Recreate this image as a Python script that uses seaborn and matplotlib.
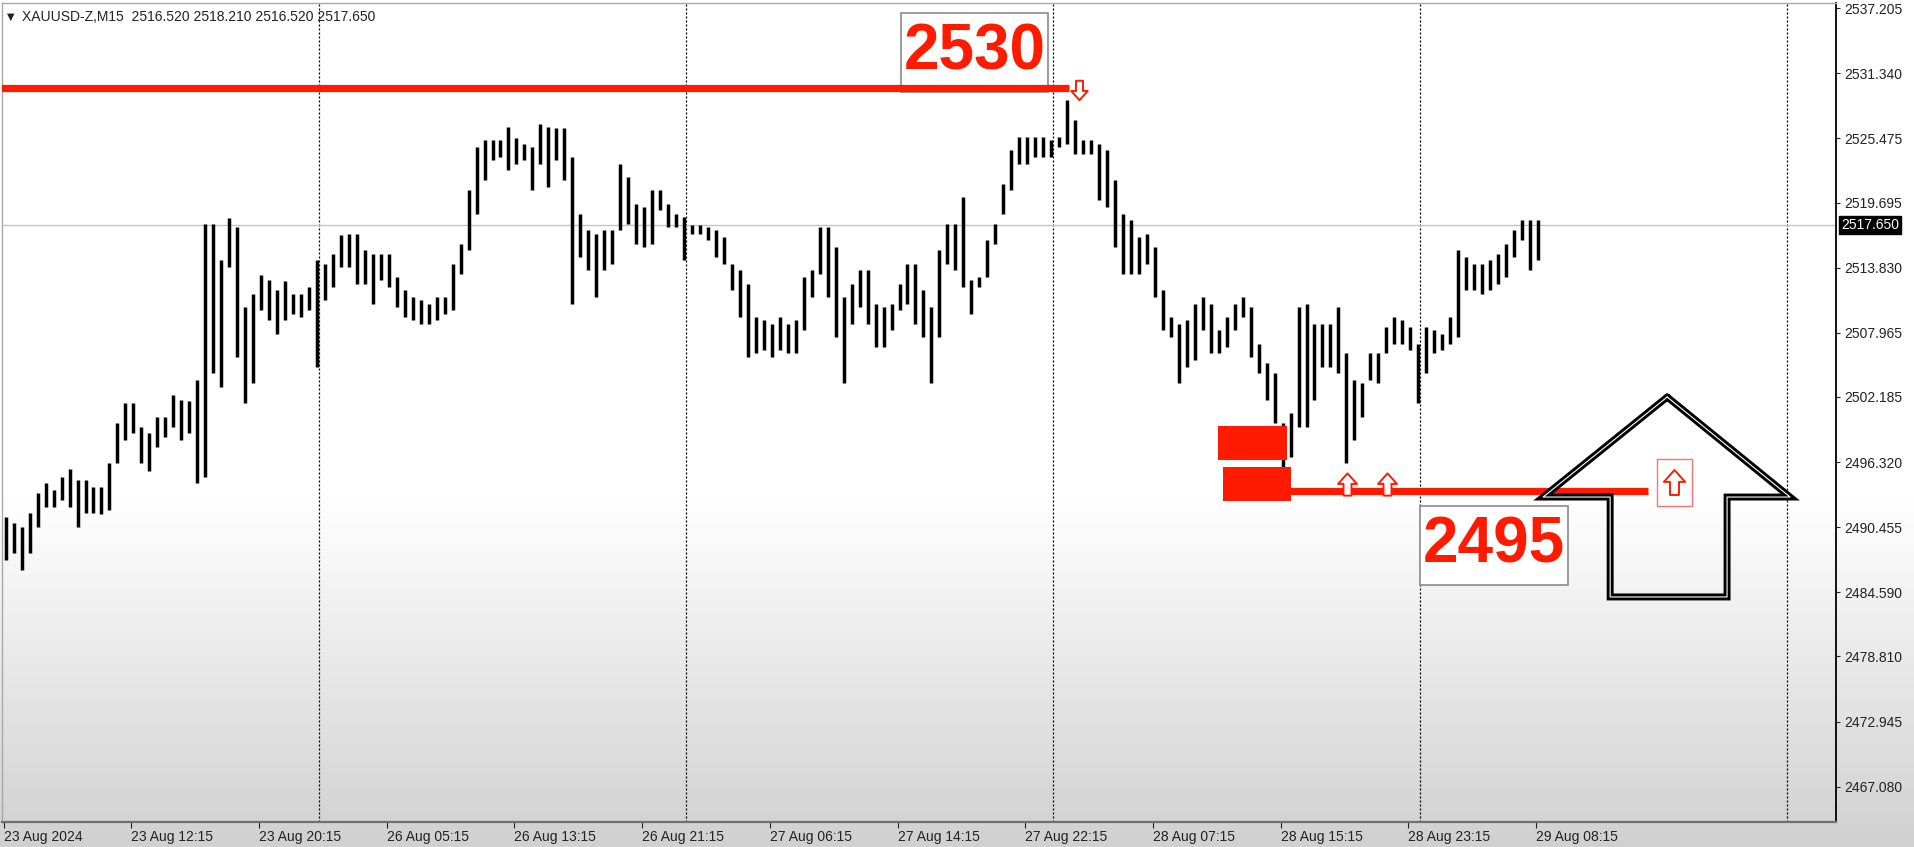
import numpy as np
import pandas as pd
import matplotlib
matplotlib.use("Agg")
import matplotlib.pyplot as plt
import seaborn as sns
from matplotlib.path import Path
from matplotlib.patches import Rectangle

# ---------------- data ----------------
header_text = "XAUUSD-Z,M15  2516.520 2518.210 2516.520 2517.650"

# one entry = 30 minutes (two M15 bars): high / low prices
bar_high = [
    2491.4, 2490.8, 2490.5, 2491.7, 2493.5, 2494.4, 2493.8, 2495.0, 2495.7, 2494.7,
    2494.7, 2494.1, 2494.1, 2496.2, 2499.8, 2501.6, 2501.6, 2499.5, 2498.9, 2500.4,
    2500.4, 2502.4, 2501.9, 2501.8, 2503.7, 2517.8, 2517.8, 2514.5, 2518.3, 2517.5,
    2510.3, 2511.5, 2513.2, 2512.7, 2511.8, 2512.6, 2511.5, 2511.5, 2512.1, 2514.5,
    2514.2, 2515.1, 2516.8, 2516.9, 2516.9, 2515.4, 2515.1, 2515.1, 2515.1, 2513.0,
    2511.8, 2511.2, 2510.9, 2510.6, 2511.2, 2511.2, 2514.2, 2516.0, 2520.8, 2524.7,
    2525.3, 2525.3, 2525.3, 2526.5, 2525.5, 2525.0, 2524.7, 2526.8, 2526.5, 2526.4,
    2526.4, 2523.8, 2518.7, 2517.2, 2516.9, 2517.2, 2517.2, 2523.2, 2522.0, 2519.6,
    2519.3, 2520.8, 2520.8, 2519.6, 2518.7, 2518.4, 2517.7, 2517.7, 2517.5, 2517.2,
    2516.6, 2514.2, 2513.6, 2512.4, 2509.4, 2509.1, 2508.8, 2509.4, 2508.8, 2509.1,
    2513.0, 2513.6, 2517.5, 2517.5, 2515.7, 2511.2, 2512.4, 2513.6, 2513.6, 2510.6,
    2510.3, 2510.6, 2512.4, 2514.2, 2514.2, 2511.8, 2510.3, 2515.4, 2517.8, 2517.8,
    2520.2, 2512.7, 2513.0, 2516.3, 2517.8, 2521.4, 2524.4, 2525.6, 2525.6, 2525.6,
    2525.6, 2525.3, 2525.6, 2528.9, 2527.1, 2525.3, 2525.3, 2525.0, 2524.4, 2521.7,
    2518.7, 2518.1, 2516.6, 2516.9, 2515.7, 2511.8, 2509.4, 2508.8, 2509.1, 2510.6,
    2511.2, 2510.6, 2508.2, 2509.4, 2510.6, 2511.2, 2510.3, 2507.0, 2505.2, 2504.3,
    2499.8, 2500.7, 2510.3, 2510.6, 2508.8, 2508.8, 2508.8, 2510.3, 2506.1, 2503.7,
    2503.4, 2506.1, 2506.1, 2508.5, 2509.4, 2509.1, 2508.5, 2507.0, 2508.5, 2508.2,
    2507.9, 2509.4, 2515.4, 2514.8, 2514.2, 2514.2, 2514.5, 2515.1, 2516.0, 2517.2,
    2518.1, 2518.1, 2518.1,
]
bar_low = [
    2487.5, 2488.1, 2486.6, 2488.1, 2490.5, 2492.3, 2492.3, 2492.9, 2492.3, 2490.5,
    2491.7, 2491.7, 2491.6, 2492.0, 2496.2, 2498.3, 2498.9, 2496.2, 2495.5, 2497.7,
    2498.6, 2499.5, 2498.3, 2498.9, 2494.4, 2495.0, 2504.3, 2503.1, 2513.9, 2505.8,
    2501.6, 2503.4, 2510.0, 2509.1, 2507.9, 2509.1, 2509.7, 2509.4, 2510.0, 2504.9,
    2510.9, 2512.1, 2513.9, 2513.9, 2512.4, 2512.4, 2510.6, 2512.7, 2512.1, 2510.3,
    2509.4, 2509.1, 2508.8, 2508.8, 2509.1, 2509.7, 2510.0, 2513.3, 2515.4, 2518.7,
    2521.7, 2523.5, 2523.8, 2522.6, 2523.2, 2523.5, 2520.8, 2523.2, 2521.1, 2523.5,
    2521.7, 2510.6, 2514.8, 2513.6, 2511.2, 2513.6, 2514.2, 2517.2, 2517.8, 2516.0,
    2515.7, 2516.0, 2519.0, 2517.5, 2517.5, 2514.5, 2516.9, 2516.9, 2516.3, 2514.8,
    2514.2, 2511.8, 2509.4, 2505.8, 2506.1, 2506.4, 2505.8, 2506.4, 2506.1, 2506.1,
    2508.2, 2511.2, 2513.3, 2511.2, 2507.6, 2503.4, 2508.8, 2510.3, 2508.8, 2506.7,
    2506.7, 2508.2, 2510.0, 2510.6, 2508.8, 2507.6, 2503.4, 2507.6, 2514.2, 2513.6,
    2512.1, 2509.7, 2512.1, 2513.0, 2516.0, 2518.7, 2520.8, 2523.2, 2523.2, 2523.8,
    2523.8, 2523.8, 2524.7, 2525.0, 2524.1, 2524.1, 2524.1, 2519.9, 2519.3, 2515.7,
    2513.3, 2513.3, 2513.3, 2514.2, 2511.2, 2508.2, 2507.6, 2503.4, 2504.9, 2505.5,
    2508.2, 2506.1, 2506.1, 2506.7, 2508.2, 2509.4, 2505.8, 2504.3, 2501.9, 2499.8,
    2495.3, 2496.8, 2499.5, 2499.5, 2501.9, 2504.9, 2504.9, 2504.3, 2496.2, 2498.3,
    2500.4, 2503.7, 2503.4, 2506.1, 2507.0, 2507.0, 2506.4, 2501.6, 2504.3, 2506.1,
    2506.4, 2507.0, 2507.6, 2511.8, 2511.8, 2511.5, 2511.8, 2512.4, 2513.0, 2514.8,
    2516.3, 2513.6, 2514.5,
]
M15_PER_ENTRY = 2

time_labels = ["23 Aug 2024", "23 Aug 12:15", "23 Aug 20:15", "26 Aug 05:15",
               "26 Aug 13:15", "26 Aug 21:15", "27 Aug 06:15", "27 Aug 14:15",
               "27 Aug 22:15", "28 Aug 07:15", "28 Aug 15:15", "28 Aug 23:15",
               "29 Aug 08:15"]
label_step_bars = 32           # 8 hours of M15 bars between labels
day_break_bars = [79, 171, 263, 355, 447]

price_ticks = [2537.205, 2531.340, 2525.475, 2519.695, 2513.830, 2507.965, 2502.185,
               2496.320, 2490.455, 2484.590, 2478.810, 2472.945, 2467.080]
last_price = 2517.65

resistance_level = 2530.0
resistance_bars = [-1, 267]
resistance_text = "2530"
resistance_box_bars = [224.9, 261.7]
resistance_box_prices = [2529.65, 2536.77]
sell_signal_bar, sell_signal_price = [269.5], [2529.8]

support_level = 2493.7
support_bars = [322, 412]
support_text = "2495"
support_box_bars = [355.0, 392.0]
support_box_prices = [2485.25, 2492.36]
buy_signal_bars = [336.7, 346.7]
buy_signal_prices = [2494.3, 2494.3]
boxed_buy_bar, boxed_buy_price = [418.5], [2494.55]
boxed_buy_box_bars = [414.3, 423.1]
boxed_buy_box_prices = [2492.4, 2496.6]

zone_bars = [[304.3, 321.6], [305.6, 322.6]]
zone_prices = [[2496.5, 2499.6], [2492.8, 2495.9]]

big_arrow_bars = [416.9, 447.7, 431.9, 431.9, 402.6, 402.6, 385.8, 416.9]
big_arrow_prices = [2502.18, 2493.17, 2493.17, 2484.17, 2484.17, 2493.17, 2493.17, 2502.18]

RED = "#ff1a00"

# ---------------- figure ----------------
sns.set_theme(style="white")
plt.rcParams['font.family'] = ['Liberation Sans', 'DejaVu Sans']

W, H = 1915, 847
fig = plt.figure(figsize=(W / 100, H / 100), dpi=100)

# background gradient (screen capture fades to grey at the bottom)
bg = fig.add_axes([0, 0, 1, 1], zorder=-10)
rows = np.arange(H)
shade = np.where(rows < 500, 255.0, 255.0 - 47.0 * (rows - 500) / 347.0) / 255.0
img = np.repeat(shade[:, None], 2, axis=1)
bg.imshow(np.dstack([img, img, img]), extent=[0, 1, 0, 1], aspect='auto', origin='upper')
bg.set_axis_off()

left_px, right_px, top_px, bottom_px = 2, 1836, 3, 822
ax = fig.add_axes([left_px / W, 1 - bottom_px / H, (right_px - left_px) / W,
                   (bottom_px - top_px) / H])
ax.set_facecolor((1, 1, 1, 0))

ax.set_xlim(-0.43, 459.2)
ax.set_ylim(2463.90, 2537.67)

# day separators and last price line
for xb in day_break_bars:
    ax.axvline(xb, color="black", lw=0.9, ls=(0, (1.6, 1.6)), zorder=1)
ax.axhline(last_price, color="#c4c4c4", lw=1.0, zorder=1)

# price bars
bar_x = np.arange(len(bar_high)) * M15_PER_ENTRY + 0.5
ax.vlines(bar_x, bar_low, bar_high, color="black", lw=2.5, zorder=3)

# red demand zone blocks
for zb, zp in zip(zone_bars, zone_prices):
    ax.fill_between(zb, zp[0], zp[1], color=RED, lw=0, zorder=4)

# level lines drawn with seaborn
res_df = pd.DataFrame({"bar": resistance_bars, "price": [resistance_level] * 2})
sup_df = pd.DataFrame({"bar": support_bars, "price": [support_level] * 2})
sns.lineplot(data=res_df, x="bar", y="price", ax=ax, color=RED, lw=5.2,
             solid_capstyle="butt", zorder=6)
sns.lineplot(data=sup_df, x="bar", y="price", ax=ax, color=RED, lw=5.2,
             solid_capstyle="butt", zorder=6)
ax.set_xlabel("")
ax.set_ylabel("")

# labelled boxes
for bx, bp, txt in [(resistance_box_bars, resistance_box_prices, resistance_text),
                    (support_box_bars, support_box_prices, support_text)]:
    ax.add_patch(Rectangle((bx[0], bp[0]), bx[1] - bx[0], bp[1] - bp[0],
                           facecolor="white", edgecolor="#8a8a8a", lw=1.2, zorder=5))
    ax.text((bx[0] + bx[1]) / 2, (bp[0] + bp[1]) / 2, txt, color=RED,
            fontsize=46, fontweight="bold", ha="center", va="center",
            family="Liberation Sans", zorder=7)

# signal arrows (hollow block arrows)
up_verts = [(0, 1), (0.85, 0.05), (0.36, 0.05), (0.36, -1), (-0.36, -1),
            (-0.36, 0.05), (-0.85, 0.05), (0, 1)]
codes = [Path.MOVETO] + [Path.LINETO] * 6 + [Path.CLOSEPOLY]
up_arrow = Path(up_verts, codes)
down_arrow = Path([(x, -y) for x, y in up_verts], codes)

ax.plot(sell_signal_bar, sell_signal_price, ls="none", marker=down_arrow, ms=14,
        mfc="white", mec=RED, mew=1.4, zorder=8)
ax.plot(buy_signal_bars, buy_signal_prices, ls="none", marker=up_arrow, ms=16,
        mfc="white", mec=RED, mew=1.4, zorder=8)
ax.add_patch(Rectangle((boxed_buy_box_bars[0], boxed_buy_box_prices[0]),
                       boxed_buy_box_bars[1] - boxed_buy_box_bars[0],
                       boxed_buy_box_prices[1] - boxed_buy_box_prices[0],
                       facecolor="none", edgecolor="#ff7070", lw=1.0, zorder=8))
ax.plot(boxed_buy_bar, boxed_buy_price, ls="none", marker=up_arrow, ms=18,
        mfc="white", mec=RED, mew=1.4, zorder=9)

# big hand-drawn arrow (black double outline)
ax.plot(big_arrow_bars, big_arrow_prices, color="black", lw=5.0,
        solid_joinstyle="miter", zorder=9)
ax.plot(big_arrow_bars, big_arrow_prices, color="white", lw=0.8, zorder=10)

# axes styling
for side in ["left", "top"]:
    ax.spines[side].set_color("#a8a8a8")
    ax.spines[side].set_linewidth(1.0)
ax.spines["right"].set_color("black")
ax.spines["right"].set_linewidth(1.3)
ax.spines["bottom"].set_color("#707070")
ax.spines["bottom"].set_linewidth(1.6)

ax.yaxis.tick_right()
ax.set_yticks(price_ticks)
ax.set_yticklabels([f"{p:.3f}" for p in price_ticks])
ax.tick_params(axis="y", which="major", right=True, left=False, length=3, width=0.8,
               pad=3, labelsize=10, colors="#222222", direction="out")

xt = np.arange(len(time_labels)) * label_step_bars
ax.set_xticks(xt)
ax.set_xticklabels(time_labels, ha="left")
ax.tick_params(axis="x", which="major", bottom=True, length=4, width=0.8, pad=2,
               labelsize=10, colors="#222222", direction="out")
ax.grid(False)

# current price box on the price scale
ax.annotate(f"{last_price:.3f}", xy=(1.0, last_price),
            xycoords=("axes fraction", "data"), xytext=(3.5, 0),
            textcoords="offset points", ha="left", va="center", fontsize=10,
            color="white", bbox=dict(boxstyle="square,pad=0.15", fc="black", ec="black"),
            zorder=20, annotation_clip=False)

# header
fig.text(7 / W, 1 - 17 / H, "\u25bc", fontsize=7, color="#222222", va="center",
         family=["DejaVu Sans"])
fig.text(22 / W, 1 - 17 / H, header_text, fontsize=10, color="#222222", va="center")

fig.savefig("out.png", dpi=100)
